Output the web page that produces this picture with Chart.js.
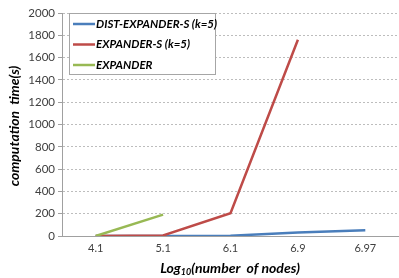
<!DOCTYPE html>
<html>
<head>
<meta charset="utf-8">
<script src="https://cdn.jsdelivr.net/npm/chart.js@4"></script>
<style>
  html, body { margin: 0; padding: 0; background: #fff; }
  #wrap { position: relative; width: 399px; height: 278px; }
</style>
</head>
<body>
<div id="wrap"><canvas id="chart" width="399" height="278"></canvas></div>
<script>
// x categories (log10 of node count) and computation time per method
const nodeLogs = ["4.1", "5.1", "6.1", "6.9", "6.97"];
const distExpanderS = [0, 0, 2, 32, 52];
const expanderS = [0, 5, 205, 1760, null];
const expander = [0, 192, null, null, null];
const yTicks = [0, 200, 400, 600, 800, 1000, 1200, 1400, 1600, 1800, 2000];

const FONT = "Lato, 'Open Sans', sans-serif";
const TEXT = "#404040";

// axis titles, the x one needs a subscript so both are drawn by hand
const axisTitles = {
  id: "axisTitles",
  afterDraw(chart) {
    const ctx = chart.ctx;
    ctx.save();
    ctx.fillStyle = "#000";
    ctx.textBaseline = "middle";
    const parts = [["Log", 14, 0], ["10", 9, 4], ["(number  of nodes)", 14, 0]];
    let w = 0;
    for (const [t, s] of parts) { ctx.font = "italic bold " + s + "px " + FONT; w += ctx.measureText(t).width; }
    let x = 230 - w / 2;
    const y = 268;
    ctx.textAlign = "left";
    for (const [t, s, dy] of parts) {
      ctx.font = "italic bold " + s + "px " + FONT;
      ctx.fillText(t, x, y + dy);
      x += ctx.measureText(t).width;
    }
    ctx.translate(14, 126);
    ctx.rotate(-Math.PI / 2);
    ctx.textAlign = "center";
    ctx.font = "italic bold 14px " + FONT;
    ctx.fillText("computation  time(s)", 0, 0);
    ctx.restore();
  },
};

new Chart(document.getElementById("chart"), {
  type: "line",
  data: {
    labels: nodeLogs,
    datasets: [
      { label: "DIST-EXPANDER-S (k=5)", data: distExpanderS, borderColor: "#4a7ebb", order: 3 },
      { label: "EXPANDER-S (k=5)", data: expanderS, borderColor: "#be4b48", order: 2 },
      { label: "EXPANDER", data: expander, borderColor: "#98b954", order: 1 },
    ].map((d) => Object.assign(d, { borderWidth: 2.5, pointRadius: 0, tension: 0, fill: false, spanGaps: false })),
  },
  options: {
    responsive: false,
    animation: false,
    layout: { padding: { top: 13, right: 0, left: 0, bottom: 0 } },
    plugins: {
      legend: { display: false },
      tooltip: { enabled: false },
    },
    scales: {
      x: {
        offset: true,
        grid: { display: false, drawTicks: false },
        border: { color: "#a0a0a0" },
        ticks: { color: TEXT, font: { family: FONT, size: 11 }, padding: 6, maxRotation: 0 },
        afterFit(s) { s.height = 42; },
      },
      y: {
        min: 0,
        max: 2000,
        afterBuildTicks(s) { s.ticks = yTicks.map((v) => ({ value: v })); },
        grid: { color: "#bdbdbd", tickColor: "#a0a0a0", tickLength: 4, tickBorderDash: [0] },
        border: { color: "#a0a0a0", dash: [2, 2] },
        ticks: { color: TEXT, font: { family: FONT, size: 11.5 }, padding: 3, callback: (v) => String(v) },
        afterFit(s) { s.width = 62; },
      },
    },
  },
  plugins: [axisTitles, {
    id: "legendBox",
    afterDraw(chart) {
      const ctx = chart.ctx;
      ctx.save();
      ctx.fillStyle = "#fff";
      ctx.fillRect(69, 13, 146, 61);
      ctx.strokeStyle = "#a6a6a6";
      ctx.lineWidth = 1;
      ctx.strokeRect(69.5, 13.5, 146, 61);
      ctx.font = "italic bold 11.5px " + FONT;
      ctx.textBaseline = "middle";
      chart.data.datasets.forEach((d, i) => {
        const y = 24 + i * 20.5;
        ctx.strokeStyle = d.borderColor;
        ctx.lineWidth = 2.5;
        ctx.beginPath();
        ctx.moveTo(73, y);
        ctx.lineTo(95, y);
        ctx.stroke();
        ctx.fillStyle = "#000";
        ctx.fillText(d.label, 96, y);
      });
      ctx.restore();
    },
  }],
});
</script>
</body>
</html>
